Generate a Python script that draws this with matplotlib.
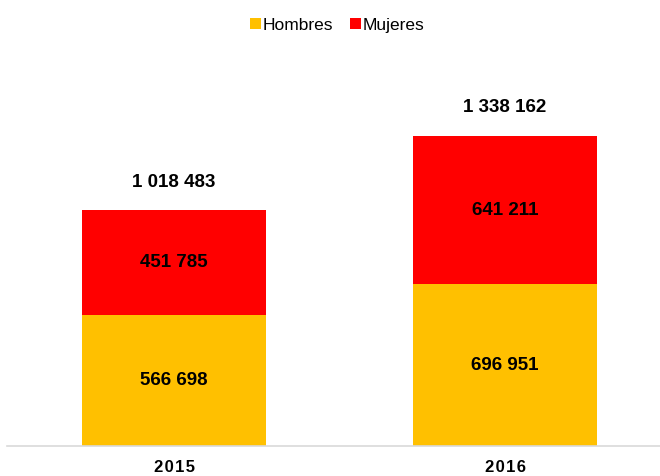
import matplotlib
matplotlib.use("Agg")
import matplotlib.pyplot as plt

plt.rcParams['font.family'] = ['Liberation Sans', 'DejaVu Sans']

years = ["2015", "2016"]
hombres = [566698, 696951]
mujeres = [451785, 641211]
totals = [1018483, 1338162]

def fmt(v):
    return f"{v:,}".replace(",", " ")

def spaced(s):
    return "\u200a".join(s)

fig = plt.figure(figsize=(6.6, 4.76), dpi=100)
ax = fig.add_axes([7/660, 30/476, 653/660, 371/476])
x = list(range(len(years)))
w = 0.556
ax.bar(x, hombres, w, color="#FFC000", label="Hombres")
ax.bar(x, mujeres, w, bottom=hombres, color="#FF0000", label="Mujeres")

for i in x:
    ax.text(i, hombres[i] / 2, fmt(hombres[i]), ha="center", va="center",
            fontsize=13.5, fontweight="bold", color="black")
    ax.text(i, hombres[i] + mujeres[i] / 2, fmt(mujeres[i]), ha="center", va="center",
            fontsize=13.5, fontweight="bold", color="black")
    ax.text(i, totals[i] + 120000, fmt(totals[i]), ha="center", va="center",
            fontsize=13.5, fontweight="bold", color="black")

ax.set_xlim(-0.505, 1.468)
ax.set_ylim(0, 1600000)
ax.set_xticks(x)
ax.set_xticklabels([spaced(y) for y in years], fontsize=12, fontweight="bold")
ax.tick_params(axis="x", length=0, pad=10)
ax.set_yticks([])
for s in ["top", "right", "left"]:
    ax.spines[s].set_visible(False)
ax.spines["bottom"].set_color("#D9D9D9")
ax.spines["bottom"].set_linewidth(1.2)

fig.legend(loc="upper center", bbox_to_anchor=(0.511, 0.995), ncol=2, frameon=False,
           fontsize=12.5, handlelength=0.6, handleheight=0.6, handletextpad=0.1,
           columnspacing=1.0)

fig.savefig("out.png", dpi=100)
